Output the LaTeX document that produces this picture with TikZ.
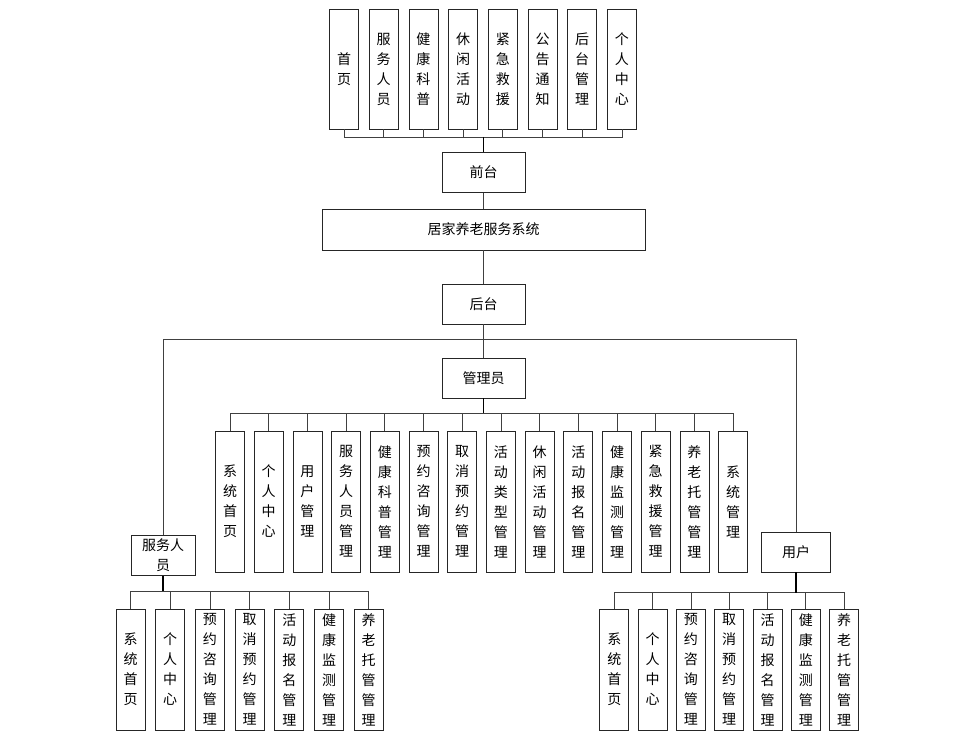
\documentclass[tikz,border=0pt]{standalone}
\usepackage{fontspec}
\setmainfont{Noto Sans CJK SC}
\usetikzlibrary{positioning}
\tikzset{
  box/.style={draw=black!85, line width=0.8pt, fill=white, align=center, inner sep=0pt, font=\fontsize{14}{20}\selectfont},
  parentbox/.style={box, minimum height=40pt},
  leafbox/.style={box, minimum width=29pt},
  link/.style={draw=black!75, line width=0.8pt},
  trunk/.style={draw=black, line width=1.4pt}
}

\begin{document}
\begin{tikzpicture}[x=1pt, y=-1pt]
      \useasboundingbox (0,0) rectangle (971,735);

      % Main nodes
      \node[parentbox, minimum width=83pt] (qiantai) at (483.5,172.5) {前台};
      \node[parentbox, minimum width=323pt, minimum height=41pt] (system) at (483.5,229.5) {居家养老服务系统};
      \node[parentbox, minimum width=83pt] (houtai) at (483.5,304) {后台};
      \node[parentbox, minimum width=83pt] (admin) at (483.5,378) {管理员};
      \node[parentbox, minimum width=64pt] (fuwu) at (163,555.5) {服务人\\员};
      \node[parentbox, minimum width=69pt] (yonghu) at (796,552) {用户};

      % Front page modules
      \begin{scope}[node distance=39.7pt, every node/.style={leafbox, minimum height=120pt}]
      \node (qt1) at (344,69) {首\\页};
      \node[right of=qt1] (qt2) {服\\务\\人\\员};
      \node[right of=qt2] (qt3) {健\\康\\科\\普};
      \node[right of=qt3] (qt4) {休\\闲\\活\\动};
      \node[right of=qt4] (qt5) {紧\\急\\救\\援};
      \node[right of=qt5] (qt6) {公\\告\\通\\知};
      \node[right of=qt6] (qt7) {后\\台\\管\\理};
      \node[right of=qt7] (qt8) {个\\人\\中\\心};
      \end{scope}

      % Admin modules
      \begin{scope}[node distance=38.7pt, every node/.style={leafbox, minimum height=141pt}]
      \node (gl1) at (230,501.5) {系\\统\\首\\页};
      \node[right of=gl1] (gl2) {个\\人\\中\\心};
      \node[right of=gl2] (gl3) {用\\户\\管\\理};
      \node[right of=gl3] (gl4) {服\\务\\人\\员\\管\\理};
      \node[right of=gl4] (gl5) {健\\康\\科\\普\\管\\理};
      \node[right of=gl5] (gl6) {预\\约\\咨\\询\\管\\理};
      \node[right of=gl6] (gl7) {取\\消\\预\\约\\管\\理};
      \node[right of=gl7] (gl8) {活\\动\\类\\型\\管\\理};
      \node[right of=gl8] (gl9) {休\\闲\\活\\动\\管\\理};
      \node[right of=gl9] (gl10) {活\\动\\报\\名\\管\\理};
      \node[right of=gl10] (gl11) {健\\康\\监\\测\\管\\理};
      \node[right of=gl11] (gl12) {紧\\急\\救\\援\\管\\理};
      \node[right of=gl12] (gl13) {养\\老\\托\\管\\管\\理};
      \node[right of=gl13] (gl14) {系\\统\\管\\理};
      \end{scope}

      % Service staff modules
      \begin{scope}[node distance=39.7pt, every node/.style={leafbox, minimum height=121pt}]
      \node (fw1) at (130.5,669.5) {系\\统\\首\\页};
      \node[right of=fw1] (fw2) {个\\人\\中\\心};
      \node[right of=fw2] (fw3) {预\\约\\咨\\询\\管\\理};
      \node[right of=fw3] (fw4) {取\\消\\预\\约\\管\\理};
      \node[right of=fw4] (fw5) {活\\动\\报\\名\\管\\理};
      \node[right of=fw5] (fw6) {健\\康\\监\\测\\管\\理};
      \node[right of=fw6] (fw7) {养\\老\\托\\管\\管\\理};
      \end{scope}

      % User modules
      \begin{scope}[node distance=38.3pt, every node/.style={leafbox, minimum height=121pt}]
      \node (yh1) at (614.3,669.5) {系\\统\\首\\页};
      \node[right of=yh1] (yh2) {个\\人\\中\\心};
      \node[right of=yh2] (yh3) {预\\约\\咨\\询\\管\\理};
      \node[right of=yh3] (yh4) {取\\消\\预\\约\\管\\理};
      \node[right of=yh4] (yh5) {活\\动\\报\\名\\管\\理};
      \node[right of=yh5] (yh6) {健\\康\\监\\测\\管\\理};
      \node[right of=yh6] (yh7) {养\\老\\托\\管\\管\\理};
      \end{scope}

      % Bus points
      \coordinate (qtbus) at (483.5,137);
      \coordinate (htbus) at (483.5,339);
      \coordinate (glbus) at (483.5,413);
      \coordinate (fwbus) at (163,591);
      \coordinate (yhbus) at (796,592.5);

      % Connections
      \foreach \i in {1,...,8} \draw[link] (qt\i.south) |- (qtbus);
      \foreach \i in {1,...,14} \draw[link] (gl\i.north) |- (glbus);
      \foreach \i in {1,...,7} \draw[link] (fw\i.north) |- (fwbus);
      \foreach \i in {1,...,7} \draw[link] (yh\i.north) |- (yhbus);

      \draw[trunk] (qtbus) -- (qiantai);
      \draw[link] (qiantai) -- (system);
      \draw[link] (system) -- (houtai);
      \draw[link] (houtai) -- (admin);
      \draw[link] (htbus) -| (fuwu);
      \draw[link] (htbus) -| (yonghu);
      \draw[trunk] (admin) -- (glbus);
      \draw[trunk] (fuwu) -- (fwbus);
      \draw[trunk] (yonghu) -- (yhbus);
    \end{tikzpicture}
\end{document}
